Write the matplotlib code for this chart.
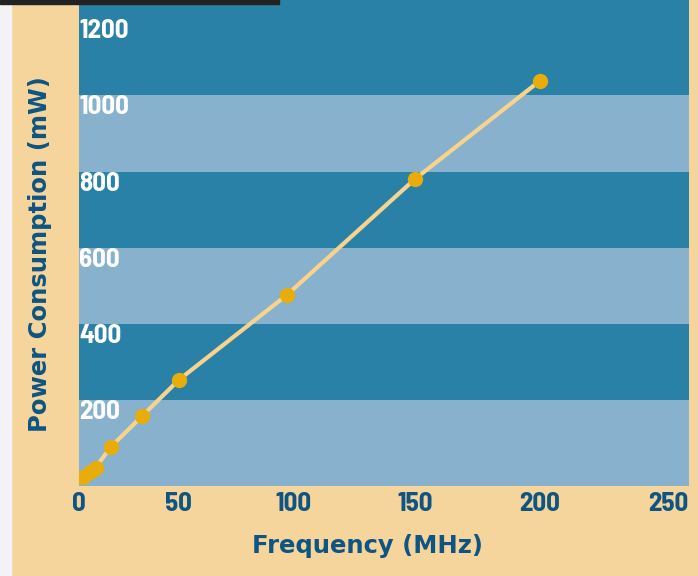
import matplotlib
matplotlib.use("Agg")
import matplotlib.pyplot as plt
import numpy as np
from matplotlib import font_manager
from matplotlib.patches import Rectangle

# ---- data ----
freq_mhz = [3, 7, 10, 18, 33, 50, 97, 150, 200]
power_mw = [0, 13, 24, 79, 159, 254, 476, 780, 1038]
x_ticks = [0, 50, 100, 150, 200, 250]
y_ticks = [200, 400, 600, 800, 1000, 1200]
band_edges = [-24.4, 200, 400, 600, 800, 1000, 1250]
x_label = "Frequency (MHz)"
y_label = "Power Consumption (mW)"

# ---- style ----
BEIGE = "#F5D59B"
DARK_BAND = "#2981A8"
LIGHT_BAND = "#87B1CC"
LINE = "#F7D38E"
MARKER = "#E8AD0A"
NAVY = "#0E5583"

available = {f.name for f in font_manager.fontManager.ttflist}
cond = "DejaVu Sans"
for cand in ["Barlow Semi Condensed", "Barlow Condensed", "Asap Condensed", "Archivo Narrow"]:
    if cand in available:
        cond = cand
        break
plt.rcParams["font.family"] = [cond, "DejaVu Sans"]
plt.rcParams["font.weight"] = "bold"

fig = plt.figure(figsize=(6.98, 5.76), dpi=100, facecolor=BEIGE)
ax = fig.add_axes([78.5 / 698, (576 - 486) / 576, 610.5 / 698, 486 / 576])
ax.set_facecolor(BEIGE)

# left light strip and top dark bar (page decoration)
fig.patches.append(Rectangle((0, 0), 11 / 698, 1, transform=fig.transFigure,
                             color="#F3F3F6", zorder=0))
fig.patches.append(Rectangle((0, 1 - 4 / 576), 279 / 698, 4 / 576,
                             transform=fig.transFigure, color="#222222", zorder=5))

# x axis: power scale
def fwd(x):
    x = np.asarray(x, dtype=float)
    return np.sign(x) * np.abs(x) ** 1.1

def inv(y):
    y = np.asarray(y, dtype=float)
    return np.sign(y) * np.abs(y) ** (1 / 1.1)

ax.set_xscale("function", functions=(fwd, inv))
ax.set_xlim(0, 258)
ax.set_ylim(band_edges[0], band_edges[-1])

# horizontal bands
for i in range(len(band_edges) - 1):
    ax.axhspan(band_edges[i], band_edges[i + 1], lw=0, zorder=0,
               color=LIGHT_BAND if i % 2 == 0 else DARK_BAND)

ax.plot(freq_mhz, power_mw, color=LINE, lw=3, zorder=2, solid_capstyle="round")
ax.plot(freq_mhz, power_mw, "o", color=MARKER, ms=10, mec=MARKER, zorder=3)

for s in ax.spines.values():
    s.set_visible(False)

ax.set_xticks(x_ticks)
ax.set_xticklabels([str(v) for v in x_ticks])
ax.set_yticks(y_ticks)
ax.set_yticklabels([str(v) for v in y_ticks])
ax.minorticks_off()

ax.tick_params(axis="x", length=0, pad=4, labelsize=19.5, labelcolor=NAVY)
ax.tick_params(axis="y", length=0, pad=-0.5, labelsize=19.5, labelcolor="white")
for lab in ax.get_yticklabels() + ax.get_xticklabels():
    lab.set_fontweight("bold")
for lab in ax.get_yticklabels():
    lab.set_ha("left")
    lab.set_va("top")

ax.set_xlabel(x_label, fontsize=17.5, color=NAVY, fontfamily="DejaVu Sans",
              fontweight="bold")
ax.xaxis.set_label_coords((367.6 - 78.5) / 610.5, (486 - 546) / 486)
ax.xaxis.label.set_va("center")

ax.set_ylabel(y_label, fontsize=17.5, color=NAVY, fontfamily="DejaVu Sans",
              fontweight="bold")
ax.yaxis.label.set(ha="center", va="center", rotation_mode="default")
ax.yaxis.set_label_coords((40 - 78.5) / 610.5, (486 - 254) / 486)

fig.savefig("out.png", dpi=100, facecolor=BEIGE)
